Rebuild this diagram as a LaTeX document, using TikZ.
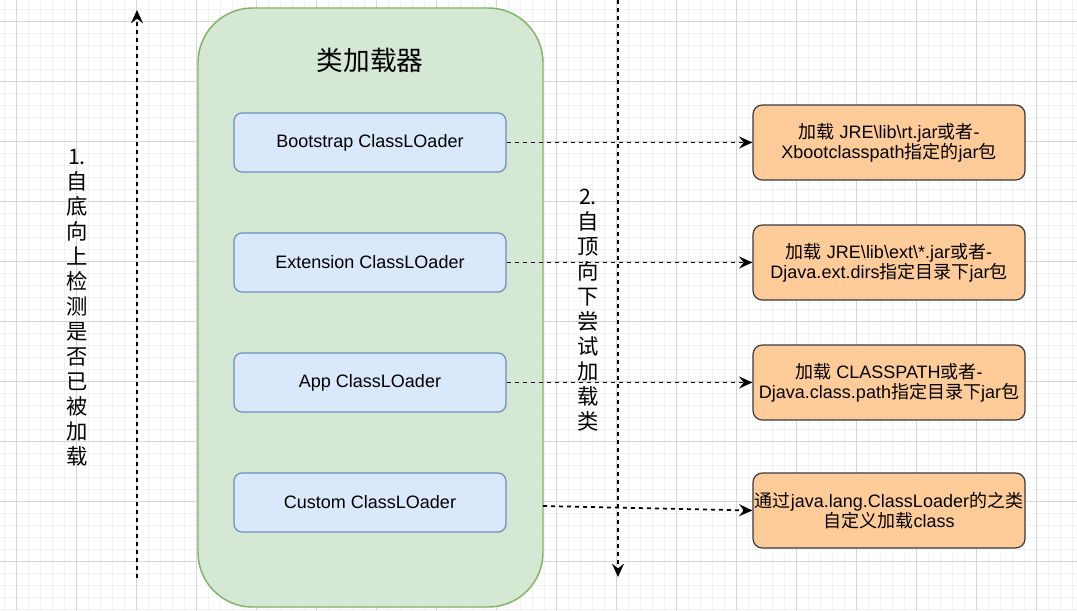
\documentclass[tikz,border=0pt]{standalone}
\usepackage{fontspec}
\setmainfont{Liberation Sans}
\newfontfamily\cjk{Noto Sans CJK SC}
\usepackage{tikz}
\usetikzlibrary{arrows.meta}
\definecolor{groupfill}{HTML}{D5E8D4}
\definecolor{groupline}{HTML}{82B366}
\definecolor{loaderfill}{HTML}{DAE8FC}
\definecolor{loaderline}{HTML}{6C8EBF}
\definecolor{pathfill}{HTML}{FFCC99}
\definecolor{pathline}{HTML}{36393D}
\tikzset{
    minorgrid/.style={draw=black!5, line width=0.6pt},
    majorgrid/.style={draw=black!16, line width=0.75pt},
    groupbox/.style={draw=groupline, fill=groupfill, line width=1.1pt, rounded corners=41pt,
        minimum width=258.75pt, minimum height=449.25pt, inner sep=0pt},
    loaderbox/.style={draw=loaderline, fill=loaderfill, line width=0.9pt, rounded corners=6pt,
        minimum width=204pt, minimum height=44.25pt, inner sep=0pt, font=\fontsize{13.5}{15}\selectfont},
    pathbox/.style={draw=pathline, fill=pathfill, line width=0.9pt, rounded corners=7pt,
        minimum width=204pt, minimum height=56.25pt, inner sep=0pt, align=center,
        font=\fontsize{13.5}{15}\selectfont},
    sidetext/.style={align=center, inner sep=0pt, font=\cjk\fontsize{16}{18.75}\selectfont},
    dasharrow/.style={draw=black, line width=1.3pt, dash pattern=on 3pt off 3pt,
        -{Stealth[length=10pt,width=9pt,inset=3.5pt]}},
}

\begin{document}
\begin{tikzpicture}[x=0.75pt, y=-0.75pt]
    \useasboundingbox[fill=white] (0,0) rectangle (1077,610);
    % background grid
    \foreach \x in {4.7,16.7,...,1077} \draw[minorgrid] (\x,0) -- (\x,610);
    \foreach \y in {9.7,21.7,...,610} \draw[minorgrid] (0,\y) -- (1077,\y);
    \foreach \x in {16.7,76.7,...,1077} \draw[majorgrid] (\x,0) -- (\x,610);
    \foreach \y in {21.7,81.7,...,610} \draw[majorgrid] (0,\y) -- (1077,\y);

    \node[groupbox] (group) at (370.5,307.5) {};
    \node[font=\cjk\fontsize{20}{24}\selectfont] (title) at (370,60) {类加载器};

    \node[loaderbox] (boot) at (370,142.5) {Bootstrap ClassLOader};
    \node[loaderbox] (ext) at (370,262.5) {Extension ClassLOader};
    \node[loaderbox] (app) at (370,382.5) {App ClassLOader};
    \node[loaderbox] (custom) at (370,502.5) {Custom ClassLOader};

    \node[pathbox] (bootpath) at (889,142.5)
        {{\cjk 加载} JRE\textbackslash lib\textbackslash rt.jar{\cjk 或者}-\\Xbootclasspath{\cjk 指定的}jar{\cjk 包}};
    \node[pathbox] (extpath) at (889,262.5)
        {{\cjk 加载} JRE\textbackslash lib\textbackslash ext\textbackslash *.jar{\cjk 或者}-\\Djava.ext.dirs{\cjk 指定目录下}jar{\cjk 包}};
    \node[pathbox] (apppath) at (889,382.5)
        {{\cjk 加载} CLASSPATH{\cjk 或者}-\\Djava.class.path{\cjk 指定目录下}jar{\cjk 包}};
    \node[pathbox] (custompath) at (889,510.5)
        {{\cjk 通过}java.lang.ClassLoader{\cjk 的之类}\\{\cjk 自定义加载}class};

    \node[sidetext] (upnote) at (77,308) {1.\\自\\底\\向\\上\\检\\测\\是\\否\\已\\被\\加\\载};
    \node[sidetext] (downnote) at (588,310) {2.\\自\\顶\\向\\下\\尝\\试\\加\\载\\类};

    \coordinate (upstart) at (137,578);
    \coordinate (upend) at (137,10);
    \coordinate (downstart) at (618,0);
    \coordinate (downend) at (618,577);
    \coordinate (customout) at (543,506);

    \draw[dasharrow] (upstart) -- (upend);
    \draw[dasharrow] (downstart) -- (downend);
    \draw[dasharrow] (boot) -- (bootpath);
    \draw[dasharrow] (ext) -- (extpath);
    \draw[dasharrow] (app) -- (apppath);
    \draw[dasharrow] (customout) -- (custompath.west);
\end{tikzpicture}
\end{document}
